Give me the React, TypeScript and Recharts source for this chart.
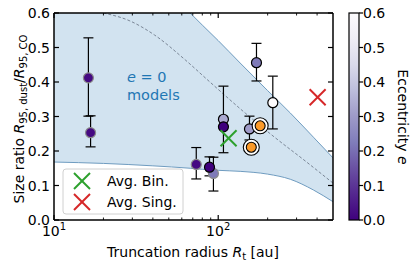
import React from "react";
import { ComposedChart, XAxis, YAxis, Area, Line, Scatter, ErrorBar } from "recharts";

const FONT = "DejaVu Sans";

// e = 0 model envelope, lower / upper edge on a shared radius grid (au)
const bandRadius = [10, 20, 40, 67.5, 80, 100, 136, 200, 275, 380, 500];
const bandLower = [0.168, 0.164, 0.157, 0.15, 0.147, 0.144, 0.141, 0.133, 0.118, 0.087, 0.053];
const bandUpper = [0.99, 0.85, 0.71, 0.6, 0.565, 0.52, 0.455, 0.375, 0.31, 0.24, 0.18];

// dashed middle model curve
const midRadius = [20, 29, 41, 63, 89, 146, 223, 339, 500];
const midRatio = [0.6, 0.577, 0.536, 0.464, 0.4, 0.31, 0.238, 0.171, 0.107];

// systems with grey outline
const greyRadius = [16.2, 16.7, 73.5, 93.5];
const greyRatio = [0.412, 0.253, 0.161, 0.135];
const greyErrLo = [0.111, 0.041, 0.042, 0.051];
const greyErrHi = [0.116, 0.049, 0.049, 0.047];
const greyEcc = [0.02, 0.02, 0.02, 0.22];

// systems with black outline
const blackRadius = [88.5, 107.6, 107.6, 155, 171, 215];
const blackRatio = [0.153, 0.292, 0.27, 0.264, 0.456, 0.34];
const blackErrLo = [0.025, 0.02, 0.075, 0.032, 0.053, 0.076];
const blackErrHi = [0.03, 0.096, 0.02, 0.037, 0.056, 0.077];
const blackEcc = [0.0, 0.33, 0.0, 0.3, 0.22, 0.6];

// ringed orange systems
const ringRadius = [180, 159];
const ringRatio = [0.273, 0.211];

// averages
const avgBinRadius = [115.6];
const avgBinRatio = [0.237];
const avgSingRadius = [403];
const avgSingRatio = [0.356];

const X_TICKS = [10, 20, 30, 40, 50, 60, 70, 80, 90, 100, 200, 300, 400];
const Y_TICKS = [0, 0.1, 0.2, 0.3, 0.4, 0.5, 0.6];
const CB_TICKS = [0, 0.1, 0.2, 0.3, 0.4, 0.5, 0.6];

const PURPLES = ["#fcfbfd", "#efedf5", "#dadaeb", "#bcbddc", "#9e9ac8", "#807dba", "#6a51a3", "#54278f", "#3f007d"];

function hexToRgb(h: string) {
  return [1, 3, 5].map((i) => parseInt(h.slice(i, i + 2), 16));
}

function eccColor(e: number) {
  const t = Math.min(1, Math.max(0, 1 - e / 0.6)) * (PURPLES.length - 1);
  const i = Math.min(Math.floor(t), PURPLES.length - 2);
  const f = t - i;
  const a = hexToRgb(PURPLES[i]);
  const b = hexToRgb(PURPLES[i + 1]);
  const c = a.map((v, k) => Math.round(v + (b[k] - v) * f));
  return `rgb(${c[0]},${c[1]},${c[2]})`;
}

const bandData = bandRadius.map((r, i) => ({ r, band: [bandLower[i], bandUpper[i]] }));
const midData = midRadius.map((r, i) => ({ r, v: midRatio[i] }));
const greyData = greyRadius.map((r, i) => ({ r, v: greyRatio[i], err: [greyErrLo[i], greyErrHi[i]], e: greyEcc[i] }));
const blackData = blackRadius.map((r, i) => ({ r, v: blackRatio[i], err: [blackErrLo[i], blackErrHi[i]], e: blackEcc[i] }));
const ringData = ringRadius.map((r, i) => ({ r, v: ringRatio[i] }));
const binData = avgBinRadius.map((r, i) => ({ r, v: avgBinRatio[i] }));
const singData = avgSingRadius.map((r, i) => ({ r, v: avgSingRatio[i] }));

const disk = (edge: string) => (p: any) => (
  <circle cx={p.cx} cy={p.cy} r={5} fill={eccColor(p.payload.e)} stroke={edge} strokeWidth={1.2} />
);

const ringed = (p: any) => (
  <g>
    <circle cx={p.cx} cy={p.cy} r={8} fill="#fff" stroke="#000" strokeWidth={1.1} />
    <circle cx={p.cx} cy={p.cy} r={5} fill="#fb9a29" stroke="#000" strokeWidth={1.1} />
  </g>
);

const cross = (color: string, s = 8) => (p: any) => (
  <g stroke={color} strokeWidth={2}>
    <line x1={p.cx - s} y1={p.cy - s} x2={p.cx + s} y2={p.cy + s} />
    <line x1={p.cx - s} y1={p.cy + s} x2={p.cx + s} y2={p.cy - s} />
  </g>
);

const isMajorX = (v: number) => v === 10 || v === 100;

const BottomTick = (p: any) => {
  const v = p.payload.value;
  const major = isMajorX(v);
  return (
    <g>
      <line x1={p.x} x2={p.x} y1={p.y} y2={p.y - (major ? 5 : 2.5)} stroke="#000" strokeWidth={major ? 1.2 : 0.9} />
      {major && (
        <text x={p.x} y={p.y + 16} textAnchor="middle" fontSize={14} fill="#000" fontFamily={FONT}>
          10<tspan dy={-6} fontSize={10}>{Math.round(Math.log10(v))}</tspan>
        </text>
      )}
    </g>
  );
};

const TopTick = (p: any) => {
  const major = isMajorX(p.payload.value);
  return <line x1={p.x} x2={p.x} y1={p.y} y2={p.y + (major ? 5 : 2.5)} stroke="#000" strokeWidth={major ? 1.2 : 0.9} />;
};

const LeftTick = (p: any) => (
  <g>
    <line x1={p.x} x2={p.x + 5} y1={p.y} y2={p.y} stroke="#000" strokeWidth={1.2} />
    <text x={p.x - 4} y={p.y + 5} textAnchor="end" fontSize={14} fill="#000" fontFamily={FONT}>
      {p.payload.value.toFixed(1)}
    </text>
  </g>
);

const RightTick = (p: any) => <line x1={p.x} x2={p.x - 5} y1={p.y} y2={p.y} stroke="#000" strokeWidth={1.2} />;

// colorbar geometry
const CB = { x: 349, y: 13, w: 10, h: 207 };

export default function App() {
  return (
    <div style={{ position: "absolute", left: 0, top: 0, width: 416, height: 267, background: "#fff", fontFamily: FONT }}>
      <ComposedChart width={416} height={267} margin={{ top: 8, right: 73, bottom: 17, left: 14 }} style={{ fontFamily: FONT }}>
        <XAxis
          dataKey="r"
          type="number"
          scale="log"
          domain={[10, 500]}
          allowDataOverflow
          ticks={X_TICKS}
          interval={0}
          height={30}
          tickSize={0}
          tickMargin={0}
          tickLine={false}
          tick={BottomTick}
          axisLine={{ stroke: "#000", strokeWidth: 1.5 }}
        />
        <XAxis
          xAxisId="top"
          orientation="top"
          dataKey="r"
          type="number"
          scale="log"
          domain={[10, 500]}
          allowDataOverflow
          ticks={X_TICKS}
          interval={0}
          height={5}
          tickSize={0}
          tickMargin={0}
          tickLine={false}
          tick={TopTick}
          axisLine={{ stroke: "#000", strokeWidth: 1.5 }}
        />
        <YAxis
          dataKey="v"
          type="number"
          domain={[0, 0.6]}
          allowDataOverflow
          ticks={Y_TICKS}
          interval={0}
          width={40}
          tickSize={0}
          tickMargin={0}
          tickLine={false}
          tick={LeftTick}
          axisLine={{ stroke: "#000", strokeWidth: 1.5 }}
        />
        <YAxis
          yAxisId="right"
          orientation="right"
          type="number"
          domain={[0, 0.6]}
          allowDataOverflow
          ticks={Y_TICKS}
          interval={0}
          width={10}
          tickSize={0}
          tickMargin={0}
          tickLine={false}
          tick={RightTick}
          axisLine={{ stroke: "#000", strokeWidth: 1.5 }}
        />
        <Area
          data={bandData}
          dataKey="band"
          type="monotone"
          fill="#d2e3f0"
          fillOpacity={1}
          stroke="#6f9cc0"
          strokeWidth={1}
          dot={false}
          activeDot={false}
          isAnimationActive={false}
        />
        <Line
          data={midData}
          dataKey="v"
          type="monotone"
          stroke="#7a8696"
          strokeWidth={1}
          strokeDasharray="3 2"
          dot={false}
          activeDot={false}
          isAnimationActive={false}
        />
        <Scatter data={greyData} dataKey="v" shape={disk("#8a8a8a")} isAnimationActive={false}>
          <ErrorBar dataKey="err" direction="y" width={5} stroke="#000" strokeWidth={1.2} />
        </Scatter>
        <Scatter data={blackData} dataKey="v" shape={disk("#000")} isAnimationActive={false}>
          <ErrorBar dataKey="err" direction="y" width={5} stroke="#000" strokeWidth={1.2} />
        </Scatter>
        <Scatter data={ringData} dataKey="v" shape={ringed} isAnimationActive={false} />
        <Scatter data={binData} dataKey="v" shape={cross("#2ca02c")} isAnimationActive={false} />
        <Scatter data={singData} dataKey="v" shape={cross("#d62728")} isAnimationActive={false} />
      </ComposedChart>

      <svg width={416} height={267} style={{ position: "absolute", left: 0, top: 0, pointerEvents: "none" }} fontFamily={FONT}>
        <defs>
          <linearGradient id="cbGrad" x1="0" y1="1" x2="0" y2="0">
            {PURPLES.slice().reverse().map((c, i) => (
              <stop key={i} offset={i / (PURPLES.length - 1)} stopColor={c} />
            ))}
          </linearGradient>
        </defs>

        <text x={127} y={82} fontSize={14.5} fill="#1f77b4">
          <tspan fontStyle="italic">e</tspan> = 0
        </text>
        <text x={127} y={100} fontSize={14.5} fill="#1f77b4">
          models
        </text>

        <rect x={63} y={169} width={120} height={45} rx={3} fill="#fff" fillOpacity={0.85} stroke="#d0d0d0" />
        {cross("#2ca02c")({ cx: 82, cy: 181 })}
        <text x={107} y={186} fontSize={14} fill="#000">Avg. Bin.</text>
        {cross("#d62728")({ cx: 82, cy: 202 })}
        <text x={107} y={207} fontSize={14} fill="#000">Avg. Sing.</text>

        <text transform="translate(24,119) rotate(-90)" textAnchor="middle" fontSize={14} fill="#000">
          Size ratio <tspan fontStyle="italic">R</tspan>
          <tspan fontSize={10} dy={3}>95, dust</tspan>
          <tspan dy={-3}>/</tspan>
          <tspan fontStyle="italic">R</tspan>
          <tspan fontSize={10} dy={3}>95, CO</tspan>
        </text>

        <text x={193} y={256.5} textAnchor="middle" fontSize={14} fill="#000">
          Truncation radius <tspan fontStyle="italic">R</tspan>
          <tspan fontSize={10} dy={3}>t</tspan>
          <tspan dy={-3}> [au]</tspan>
        </text>

        <rect x={CB.x} y={CB.y} width={CB.w} height={CB.h} fill="url(#cbGrad)" stroke="#000" strokeWidth={1.2} />
        {CB_TICKS.map((t) => {
          const y = CB.y + CB.h - (t / 0.6) * CB.h;
          return (
            <g key={t}>
              <line x1={CB.x + CB.w} x2={CB.x + CB.w + 4} y1={y} y2={y} stroke="#000" strokeWidth={1.2} />
              <text x={CB.x + CB.w + 4} y={y + 5} fontSize={14} fill="#000">{t.toFixed(1)}</text>
            </g>
          );
        })}
        <text transform="translate(398,117) rotate(90)" textAnchor="middle" fontSize={14} fill="#000">
          Eccentricity <tspan fontStyle="italic">e</tspan>
        </text>
      </svg>
    </div>
  );
}
